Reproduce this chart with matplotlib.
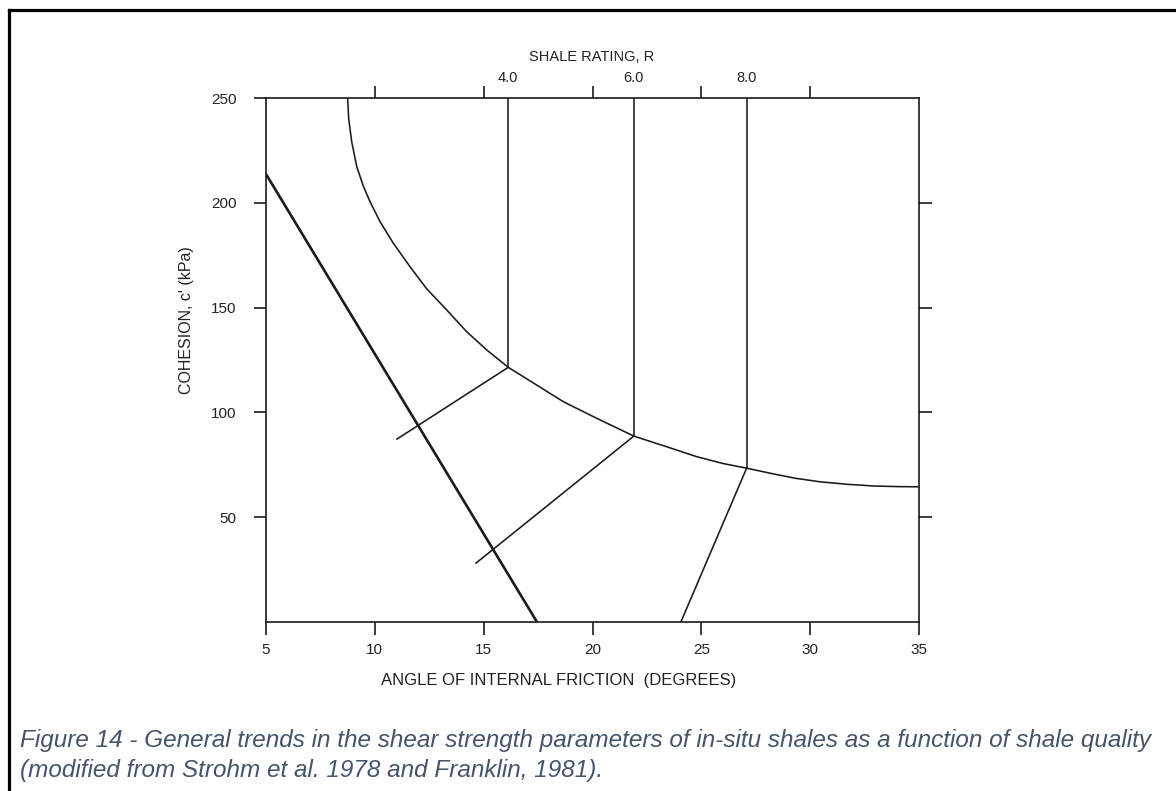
import matplotlib
matplotlib.use("Agg")
import matplotlib.pyplot as plt
from matplotlib.lines import Line2D

plt.rcParams['font.family'] = ['Liberation Sans', 'DejaVu Sans']

# ---- data ----
# thick boundary line (angle, cohesion)
bound_x = [5.0, 17.45]
bound_y = [213.7, 0.0]

# curved envelope
curve_x = [8.75, 8.80, 8.94, 9.17, 9.47, 9.78, 10.24, 10.85, 11.61, 12.38, 13.30,
           14.22, 15.14, 16.13, 17.43, 18.66, 20.19, 21.90, 23.5, 24.78, 26.0,
           27.08, 28.15, 29.3, 30.45, 31.7, 32.9, 34.0, 35.0]
curve_y = [250.0, 240.0, 229.0, 217.2, 208.0, 200.5, 191.0, 180.7, 169.6, 159.0, 148.9,
           138.5, 129.8, 121.5, 113.1, 105.1, 97.2, 88.7, 83.3, 78.9, 75.6,
           73.4, 71.0, 68.6, 66.9, 65.7, 64.9, 64.6, 64.5]

# shale rating lines: vertical part (top of chart to envelope) + spur
rating_labels = ["4.0", "6.0", "8.0"]
rating_x = [16.13, 21.90, 27.08]
rating_c = [121.5, 88.7, 73.4]
spur_end_x = [11.02, 14.65, 24.06]
spur_end_y = [87.3, 28.1, 0.0]

x_ticks = [5, 10, 15, 20, 25, 30, 35]
y_ticks = [50, 100, 150, 200, 250]
top_ticks = [10, 15, 20, 25, 30]

W, H = 1176, 791
fig = plt.figure(figsize=(W / 100, H / 100), dpi=100)
ax = fig.add_axes([266 / W, 1 - 622 / H, (919 - 266) / W, (622 - 98) / H])
ax.set_xlim(5, 35)
ax.set_ylim(0, 250)

lc = '#1a1a1a'
tc = '#222222'
ax.plot(bound_x, bound_y, color=lc, lw=1.9, solid_capstyle='butt')
ax.plot(curve_x, curve_y, color=lc, lw=1.15, solid_joinstyle='round')
for xr, cr, sx, sy in zip(rating_x, rating_c, spur_end_x, spur_end_y):
    ax.plot([xr, xr], [250, cr], color=lc, lw=1.15)
    ax.plot([xr, sx], [cr, sy], color=lc, lw=1.15)

for s in ax.spines.values():
    s.set_linewidth(1.2)
    s.set_color(lc)

ax.set_xticks(x_ticks)
ax.set_xticklabels([str(v) for v in x_ticks], fontsize=11)
ax.set_yticks(y_ticks)
ax.set_yticklabels([str(v) for v in y_ticks], fontsize=11)
ax.tick_params(axis='both', direction='out', length=9, width=1.2, color=lc,
               labelcolor=tc)
ax.xaxis.set_tick_params(pad=6)
ax.yaxis.set_tick_params(pad=12)
# hide tick marks at corners
for t in ax.xaxis.get_major_ticks():
    if t.get_loc() in (5, 35):
        t.tick1line.set_visible(False)
for t in ax.yaxis.get_major_ticks():
    if t.get_loc() == 250:
        t.tick1line.set_visible(False)

# right ticks
axr = ax.twinx()
axr.set_ylim(0, 250)
axr.set_yticks([50, 100, 150, 200])
axr.set_yticklabels([])
axr.tick_params(axis='y', direction='out', length=9, width=1.2, color=lc)
for s in axr.spines.values():
    s.set_visible(False)

# top axis: shale rating
axt = ax.twiny()
axt.set_xlim(5, 35)
axt.set_xticks(top_ticks)
axt.set_xticklabels([])
axt.tick_params(axis='x', direction='out', length=9, width=1.2, color=lc)
for s in axt.spines.values():
    s.set_visible(False)
for xr, lab in zip(rating_x, rating_labels):
    ax.annotate(lab, xy=(xr, 250), xytext=(0, 9), textcoords='offset points',
                ha='center', va='bottom', fontsize=10.5, color=tc,
                annotation_clip=False)

fig.text(592 / W, 1 - 57 / H, "SHALE RATING, R", ha='center', va='center',
         fontsize=10.5, color=tc)
fig.text(559 / W, 1 - 680 / H, "ANGLE OF INTERNAL FRICTION  (DEGREES)",
         ha='center', va='center', fontsize=12, color=tc)
fig.text(186 / W, 1 - 320 / H, "COHESION, c' (kPa)", ha='center', va='center',
         rotation=90, fontsize=11.5, color=tc)

cap_color = '#44546A'
fig.text(20 / W, 1 - 740 / H,
         "Figure 14 - General trends in the shear strength parameters of in-situ shales as a function of shale quality",
         ha='left', va='center', fontsize=17.5, style='italic', color=cap_color)
fig.text(20 / W, 1 - 771 / H,
         "(modified from Strohm et al. 1978 and Franklin, 1981).",
         ha='left', va='center', fontsize=17.5, style='italic', color=cap_color)

# frame of the figure box (left and top)
fig.add_artist(Line2D([8.5 / W, 8.5 / W], [0, 1 - 9.5 / H], transform=fig.transFigure,
                      color='black', lw=2.3))
fig.add_artist(Line2D([8.5 / W, 1], [1 - 9.5 / H, 1 - 9.5 / H], transform=fig.transFigure,
                      color='black', lw=2.3))

fig.savefig("out.png", dpi=100, facecolor='white')
